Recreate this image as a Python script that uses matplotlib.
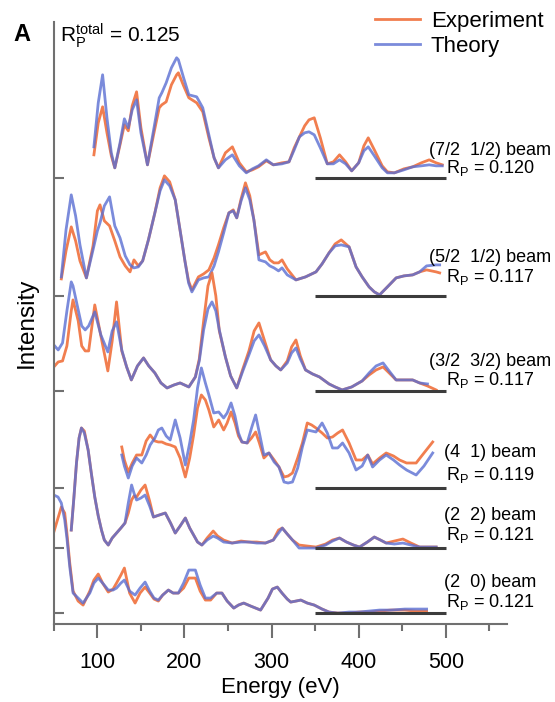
import numpy as np
import matplotlib.pyplot as plt
from matplotlib.ticker import MultipleLocator

plt.rcParams['font.family'] = ['Liberation Sans', 'DejaVu Sans']
plt.rcParams['mathtext.default'] = 'regular'

# LEED I(V) curves, energies in eV, intensities in arbitrary units (height above each baseline)
# (7/2 1/2) beam
e_72 = [96, 101, 106, 111, 116, 120, 126, 131, 135.5, 140, 145, 150, 157.5, 165, 171, 174, 179, 185, 191, 193,
        199, 205, 214, 221, 228, 234, 239, 247, 255, 263, 271, 278, 285, 294, 302, 312, 320, 326, 332, 338,
        343, 349, 356, 364, 371, 378, 385, 392, 400, 406, 411, 418, 427, 433, 441, 452, 462, 472, 481, 489, 496]
th_72 = [31, 75, 103, 60, 25, 10, 35, 59, 50, 68, 78, 45, 13, 50, 80, 85, 95, 110, 120, 118,
         100, 83, 81, 70, 43, 20, 10, 18, 23, 12, 5, 9, 12, 18, 13, 14, 16, 28, 41, 45,
         46, 43, 30, 14, 14, 18, 14, 7, 15, 27, 31, 22, 10, 5, 5, 8, 11, 12, 13, 12, 12]
ex_72 = [23, 55, 71, 45, 22, 10, 33, 53, 47, 72, 86, 50, 13, 45, 70, 73, 76, 93, 103, 105,
         92, 80, 75, 66, 40, 20, 10, 25, 31, 15, 6, 8, 11, 17, 13, 15, 16, 30, 41, 52,
         58, 60, 40, 14, 16, 23, 16, 7, 15, 32, 40, 28, 12, 6, 5, 9, 11, 15, 18, 15, 13]

# (5/2 1/2) beam
e_52 = [58.6, 64, 70, 75, 80, 87.4, 95, 100, 103, 108, 114, 120, 126, 132, 137.5, 142, 147, 152, 158.6, 166,
        172, 177, 183, 189.4, 196.7, 200.5, 204.7, 208.5, 216, 222, 228, 234, 239, 245, 251, 256, 260, 265, 270, 275,
        279.7, 285.5, 293, 298, 302.8, 308, 312, 318, 328, 339, 351, 358, 366, 373, 380, 389, 397, 404, 412, 418,
        424, 433, 443, 452, 462, 470, 478, 489, 493]
th_52 = [19, 66, 101, 80, 51, 18, 46, 65, 73, 90, 99, 70, 58, 40, 31, 28, 29, 35, 56, 83,
         105, 116, 110, 96, 56, 35, 13, 4, 16, 18, 19, 30, 44, 63, 83, 85, 78, 95, 108, 96,
         76, 36, 34, 30, 28, 25, 28, 21, 16, 19, 24, 32, 43, 50, 51, 49, 29, 19, 9, 4,
         1, 9, 18, 20, 21, 24, 30, 31, 31]
ex_52 = [17, 45, 69, 55, 35, 18, 50, 85, 91, 75, 70, 55, 39, 30, 24, 36, 30, 35, 56, 83,
         108, 120, 114, 96, 56, 35, 15, 6, 19, 22, 26, 38, 51, 68, 83, 86, 78, 97, 113, 100,
         76, 41, 44, 36, 33, 33, 36, 27, 16, 19, 24, 32, 43, 52, 56, 49, 29, 19, 9, 4,
         1, 9, 18, 20, 21, 24, 26, 24, 23]

# (3/2 3/2) beam
e_33 = [50, 55, 60, 65, 70, 72, 78, 82, 86, 90, 97, 104, 112, 117, 122, 128, 133.6, 139, 146, 153,
        159, 166, 173, 180, 188, 195, 205, 212.5, 217, 222, 227, 231.6, 236, 240, 247, 253, 260, 267, 274, 280,
        285.5, 292, 299, 305, 310.5, 318, 323, 328, 333, 339, 347, 355, 366, 373, 381, 392, 404, 412, 420, 428,
        435, 443, 452, 462, 470, 479, 489]
th_33 = [46, 41, 48, 80, 109, 105, 81, 65, 61, 65, 79, 56, 39, 60, 69, 41, 24, 11, 25, 33,
         25, 18, 8, 3, 6, 8, 4, 14, 30, 61, 82, 89, 80, 61, 34, 15, 3, 20, 36, 50,
         56, 45, 31, 25, 21, 28, 38, 43, 32, 21, 17, 14, 7, 4, 1, 4, 10, 18, 25, 28,
         20, 11, 11, 11, 8, 7, np.nan]
ex_33 = [24, 29, 30, 45, 80, 91, 70, 45, 40, 40, 86, 55, 20, 50, 89, 40, 24, 11, 25, 33,
         25, 18, 8, 3, 6, 8, 4, 14, 32, 70, 105, 118, 95, 60, 34, 15, 3, 22, 40, 60,
         68, 50, 31, 25, 21, 30, 44, 51, 35, 21, 17, 14, 7, 4, 1, 4, 10, 16, 21, 24,
         18, 11, 11, 11, 8, 5, 1]

# (4 1) beam
e_41 = [128, 131, 135.5, 140, 145, 151, 156, 160.6, 166, 170, 174, 179, 183.6, 189.4, 195, 201, 206, 210.5, 215, 219.4,
        224, 228, 233.6, 239.3, 245, 249, 253.5, 258, 262, 266, 272, 277, 281.7, 286, 291.2, 297, 303, 308.5, 314.3, 319,
        324, 330, 335.4, 341, 346, 351, 358, 364, 370, 376, 381.5, 389, 397, 404, 410.4, 416, 424, 431.6, 440, 447,
        455, 466, 475, 485]
th_41 = [33, 22, 10, 22, 30, 25, 33, 43, 50, 58, 60, 52, 48, 68, 50, 23, 45, 68, 100, 120,
         105, 93, 75, 76, 70, 75, 85, 72, 55, 46, 45, 60, 73, 55, 33, 35, 26, 21, 6, 5,
         6, 20, 41, 58, 57, 56, 65, 55, 40, 40, 45, 35, 18, 22, 33, 21, 28, 33, 28, 23,
         18, 13, 22, 35]
ex_41 = [41, 28, 16, 25, 33, 33, 47, 53, 47, 46, 46, 44, 43, 41, 30, 11, 30, 53, 80, 93,
         88, 78, 61, 68, 58, 65, 76, 65, 52, 46, 45, 50, 56, 45, 30, 35, 28, 21, 11, 12,
         15, 30, 45, 65, 63, 60, 55, 50, 51, 55, 58, 45, 28, 28, 33, 24, 30, 35, 32, 28,
         25, 25, 35, 46]

# (2 2) beam
e_22 = [70, 73, 76, 79, 81.7, 85, 89.4, 93, 97, 101, 104.7, 108, 112.5, 117, 122, 127, 131.7, 135.5, 139.3, 142,
        145, 150, 154.8, 160, 164.4, 171, 178, 184, 189.4, 195, 201, 206, 210.5, 215, 220, 226, 233, 238, 245, 254.7,
        265, 274, 283, 293, 302, 308, 312.3, 318, 324, 331.6, 341, 351, 362, 370, 378, 386, 394, 401, 410, 418,
        425, 431.6, 441, 450.8, 460, 470, 480, 489]
th_22 = [18, 50, 85, 110, 120, 115, 98, 75, 51, 32, 18, 8, 3, 10, 15, 20, 25, 45, 63, 55,
         48, 50, 53, 42, 31, 33, 35, 25, 15, 22, 30, 20, 13, 6, 3, 8, 12, 10, 6, 5,
         6, 6, 5, 5, 8, 15, 20, 14, 8, 0, 0, 0, 3, 7, 10, 6, 3, 1, 6, 11,
         8, 5, 4, 5, 3, 1, 1, 1]
ex_22 = [18, 50, 85, 110, 120, 117, 98, 75, 51, 32, 18, 8, 3, 10, 15, 20, 25, 35, 48, 52,
         51, 58, 63, 47, 31, 33, 35, 25, 15, 22, 30, 20, 13, 6, 3, 10, 17, 12, 8, 5,
         7, 6, 6, 5, 8, 18, 20, 14, 8, 3, 2, 1, 4, 8, 10, 6, 3, 1, 6, 11,
         8, 5, 7, 9, 5, 1, 1, 1]

# (2 0) beam
e_20 = [50, 54.8, 58.6, 62.5, 65, 68.3, 72.1, 77.9, 83.6, 91.3, 96, 101, 106, 112.5, 118, 122, 127, 131, 137, 143.3,
        149, 154.8, 160, 165, 170, 175, 181.5, 187, 193, 199, 205, 212.5, 218, 224, 230, 237, 243, 249, 256.6, 262,
        268, 276, 287.4, 296, 301, 306.6, 312, 318, 322, 328, 333.6, 341, 349, 358, 366, 376, 389, 400, 412, 424,
        437, 453, 466, 478]
th_20 = [118, 116, 110, 93, 75, 46, 20, 15, 10, 20, 30, 35, 30, 23, 23, 25, 30, 33, 22, 18,
         25, 31, 22, 15, 13, 18, 23, 20, 20, 30, 43, 43, 28, 15, 15, 20, 20, 12, 5, 8,
         10, 7, 3, 15, 24, 26, 20, 14, 11, 12, 13, 10, 8, 4, 1, 0, 1, 1, 2, 3,
         3, 4, 4, 4]
ex_20 = [81, 95, 106, 100, 80, 50, 22, 12, 8, 22, 33, 39, 30, 21, 24, 30, 38, 45, 20, 10,
         20, 26, 20, 14, 12, 18, 23, 20, 20, 25, 35, 35, 22, 13, 13, 20, 20, 12, 5, 8,
         10, 7, 3, 15, 24, 26, 20, 14, 11, 12, 13, 10, 8, 4, 1, 0, 0, 1, 1, 2,
         3, 3, 2, 2]

beam_names = ['(7/2  1/2) beam', '(5/2  1/2) beam', '(3/2  3/2) beam',
              '(4  1) beam', '(2  2) beam', '(2  0) beam']
rp_values = ['0.120', '0.117', '0.117', '0.119', '0.121', '0.121']
rp_total = '0.125'

beams = [(e_72, ex_72, th_72), (e_52, ex_52, th_52), (e_33, ex_33, th_33),
         (e_41, ex_41, th_41), (e_22, ex_22, th_22), (e_20, ex_20, th_20)]

# vertical offset of each curve and where its two label lines sit
offsets = [446, 328, 233, 136, 76, 11]
label_dy = [(27, 10), (38, 19), (29, 11), (35, 13), (33, 13), (31, 11)]

c_exp = '#f0703c'
c_th = '#5a6ed2'
c_axis = '#707070'

fig = plt.figure(figsize=(5.55, 7.02), dpi=100)
ax = fig.add_axes([0.097, 0.111, 0.816, 0.858])

for (e, ex, th), off, name, rp, (d1, d2) in zip(beams, offsets, beam_names, rp_values, label_dy):
    e = np.array(e)
    ax.plot(e, np.array(ex) + off, color=c_exp, lw=2.0, alpha=0.9, solid_joinstyle='round',
            label='Experiment' if off == offsets[0] else None)
    ax.plot(e, np.array(th) + off, color=c_th, lw=2.0, alpha=0.8, solid_joinstyle='round',
            label='Theory' if off == offsets[0] else None)
    ax.hlines(off, 350, 500, color='#3c3c3c', lw=2.2)
    ax.text(551, off + d1, name, ha='center', va='center', fontsize=13)
    ax.text(551, off + d2, 'R$_P$ = ' + rp, ha='center', va='center', fontsize=13)

ax.set_xlim(50, 570)
ax.set_ylim(0, 602)
ax.set_xticks([100, 200, 300, 400, 500])
ax.xaxis.set_minor_locator(MultipleLocator(50))
ax.set_yticks(offsets)
ax.set_yticklabels([])
ax.tick_params(axis='x', which='major', direction='out', length=10, width=1.5, color=c_axis,
               labelsize=15.5, pad=10)
ax.tick_params(axis='x', which='minor', direction='out', length=5, width=1.5, color=c_axis)
ax.tick_params(axis='y', direction='in', length=7, width=1.5, color=c_axis)
for s in ['top', 'right']:
    ax.spines[s].set_visible(False)
for s in ['left', 'bottom']:
    ax.spines[s].set_color(c_axis)
    ax.spines[s].set_linewidth(1.5)

ax.set_xlabel('Energy (eV)', fontsize=16, labelpad=3)
ax.set_ylabel('Intensity', fontsize=17.5, labelpad=8)

leg = ax.legend(loc='upper left', bbox_to_anchor=(0.676, 0.985), bbox_transform=fig.transFigure,
                frameon=False, fontsize=16, handlelength=2.0, handletextpad=0.5,
                labelspacing=0.2, borderpad=0, borderaxespad=0)

fig.text(0.04, 0.951, 'A', fontsize=17, fontweight='bold', ha='center', va='center')
fig.text(0.108, 0.940, 'R$_P^{total}$ = ' + rp_total, fontsize=15, ha='left', va='baseline')

fig.savefig('out.png', dpi=100)
